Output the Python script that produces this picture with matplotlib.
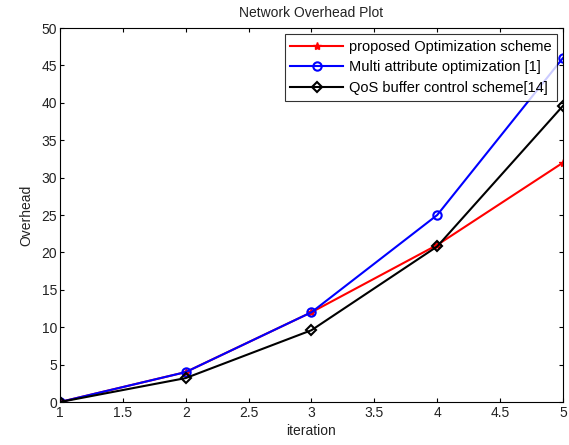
import matplotlib.pyplot as plt

plt.rcParams['font.family'] = ['Liberation Sans', 'DejaVu Sans']

iterations = [1, 2, 3, 4, 5]
proposed = [0, 4, 12, 21, 32]
multi_attr = [0, 4, 12, 25, 46]
qos_buffer = [0, 3.2, 9.6, 20.8, 39.6]

fig = plt.figure(figsize=(5.69, 4.45), dpi=100)
ax = fig.add_axes([0.1054, 0.0966, 0.884, 0.8404])

ax.plot(iterations, proposed, color='r', marker='*', markersize=6, linewidth=1.5,
        label='proposed Optimization scheme')
ax.plot(iterations, multi_attr, color='b', marker='o', markersize=6, markerfacecolor='none',
        markeredgewidth=1.5, linewidth=1.5, label='Multi attribute optimization [1]')
ax.plot(iterations, qos_buffer, color='k', marker='D', markersize=5.5, markerfacecolor='none',
        markeredgewidth=1.5, linewidth=1.5, label='QoS buffer control scheme[14]')

ax.set_xlim(1, 5)
ax.set_ylim(0, 50)
ax.set_xticks([1, 1.5, 2, 2.5, 3, 3.5, 4, 4.5, 5])
ax.set_xticklabels(['1', '1.5', '2', '2.5', '3', '3.5', '4', '4.5', '5'])
ax.set_yticks(range(0, 51, 5))
ax.tick_params(direction='in', top=True, right=True, labelsize=10, length=3,
               labelcolor='#222222')
ax.tick_params(axis='x', pad=3)
ax.tick_params(axis='y', pad=2)

ax.set_xlabel('iteration', fontsize=10, labelpad=3, color='#222222')
ax.set_ylabel('Overhead', fontsize=10, labelpad=6, color='#222222')
ax.set_title('Network Overhead Plot', fontsize=10, pad=8, color='#222222')

leg = ax.legend(loc='upper right', fontsize=10.5, fancybox=False, edgecolor='k',
                borderaxespad=0.4, handlelength=3.6, labelspacing=0.45,
                borderpad=0.4, handletextpad=0.4)
leg.get_frame().set_linewidth(0.8)

fig.savefig('out.png', dpi=100)
